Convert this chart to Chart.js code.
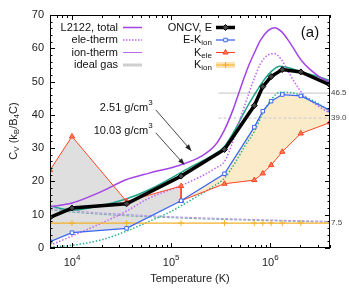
<!DOCTYPE html>
<html>
<head>
<meta charset="utf-8">
<script src="https://cdn.jsdelivr.net/npm/chart.js@4.4.1/dist/chart.umd.min.js"></script>
<style>
  html, body { margin: 0; padding: 0; background: #fff; }
  #wrap { width: 349px; height: 291px; position: relative; }
</style>
</head>
<body>
<div id="wrap"><canvas id="cv-chart"></canvas></div>
<script>
// DFT temperatures (K) shared by ONCV E, E-Kion and Kion
const tempDFT = [6000, 10000, 35500, 126000, 345000, 690000, 840000, 1020000, 1320000, 2030000, 4000000];
const oncvE = [9.2, 12.0, 13.3, 21.6, 29.6, 42.8, 48.5, 51.5, 53.6, 52.9, 49.0];
const eMinusKion = [1.9, 4.6, 5.9, 14.2, 22.3, 36.3, 41.1, 44.1, 46.1, 45.7, 41.4];
const kIon = [7.5, 7.5, 7.5, 7.5, 7.5, 7.5, 7.5, 7.5, 7.5, 7.5, 7.5];

// Kele, 2.51 g/cm3 branch (drops to the 10.03 branch at the last point)
const tempKeleLow = [6000, 10000, 35500, 126000, 126000];
const kEleLow = [23.4, 33.5, 14.0, 18.6, 14.2];
// Kele, 10.03 g/cm3 branch
const tempKeleHigh = [126000, 345000, 690000, 840000, 1020000, 1320000, 2030000, 4000000];
const kEleHigh = [14.2, 19.3, 20.4, 22.4, 24.9, 28.9, 34.4, 37.7];

// L2122 curves, 2.51 g/cm3
const tPurple = [6000, 10000, 20000, 35000, 60000, 120000, 200000, 280000, 345000, 420000, 500000, 600000, 700000, 800000, 950000, 1100000, 1300000, 1550000, 2100000, 3100000, 4000000];
const total251 = [12.4, 13.5, 17.0, 20.5, 22.5, 24.8, 27.5, 31.0, 35.5, 41.5, 48.0, 54.5, 59.0, 62.5, 65.3, 66.2, 65.0, 62.0, 56.0, 51.5, 49.8];
const eleTherm251 = [0.8, 3.6, 7.5, 11.0, 15.0, 18.5, 21.5, 24.0, 26.0, 32.0, 39.0, 46.0, 51.5, 55.5, 58.0, 58.4, 56.5, 52.5, 46.5, 42.5, 40.5];

// L2122 curves, 10.03 g/cm3
const tTeal = [6000, 10000, 20000, 35000, 60000, 100000, 150000, 250000, 345000, 450000, 550000, 690000, 840000, 1020000, 1250000, 1600000, 2000000, 3000000, 4000000];
const total1003 = [12.6, 11.4, 12.8, 14.7, 17.5, 21.0, 24.0, 27.5, 30.5, 36.0, 41.0, 46.0, 50.0, 53.0, 54.6, 54.0, 53.0, 51.5, 50.3];
const eleTherm1003 = [0.3, 0.8, 2.5, 5.0, 8.0, 11.0, 14.0, 18.0, 21.0, 26.0, 30.5, 35.0, 40.5, 44.5, 46.8, 46.7, 46.0, 43.5, 41.0];

// ion-therm curves
const tIon = [6000, 10000, 30000, 100000, 300000, 1000000, 4000000];
const ionTherm251 = [11.9, 11.2, 10.2, 9.4, 8.9, 8.4, 8.0];
const ionTherm1003 = [11.5, 10.8, 9.8, 9.1, 8.6, 8.2, 7.8];

// ideal gas limits
const tIdeal = [300000, 4000000];
const idealGas251 = [46.5, 46.5];
const idealGas1003 = [39.0, 39.0];

// tick labels
const xTickValues = [1e4, 1e5, 1e6];
const xTickExponents = ['4', '5', '6'];
const rightLabels = [7.5, 39.0, 46.5];
const legendLeft = ['L2122, total', 'ele-therm', 'ion-therm', 'ideal gas'];
const legendRight = [['ONCV, E', ''], ['E-K', 'ion'], ['K', 'ele'], ['K', 'ion']];

const C = {
    black: '#000',
    blue: '#3a66f2',
    red: '#ff4422',
    orange: '#f2b12a',
    purple: '#a443e6',
    purpleDot: '#c062f2',
    lilac: '#b59ae6',
    teal: '#1ea589',
    tealDot: '#2bb394',
    tealIon: '#7fa9ad',
    gray: '#cfcfcf',
    grayFill: '#dfdfdf',
    beige: '#fcebc9',
};

const pts = (xs, ys) => xs.map((x, i) => ({ x, y: ys[i] }));
const curve = (xs, ys, color, width, dash, order) => ({
    data: pts(xs, ys), borderColor: color, borderWidth: width, borderDash: dash || [],
    pointRadius: 0, cubicInterpolationMode: 'monotone', fill: false, order,
});

const FONT = "'Liberation Sans', 'DejaVu Sans', Arial, sans-serif";
Chart.defaults.font.family = FONT;
Chart.defaults.color = '#222';

function drawSample(ctx, x0, x1, y, st) {
    ctx.save();
    if (st.band) {
        ctx.strokeStyle = st.band; ctx.lineWidth = 6;
        ctx.beginPath(); ctx.moveTo(x0, y); ctx.lineTo(x1, y); ctx.stroke();
    }
    ctx.strokeStyle = st.color; ctx.lineWidth = st.width;
    ctx.setLineDash(st.dash || []);
    ctx.beginPath(); ctx.moveTo(x0, y); ctx.lineTo(x1, y); ctx.stroke();
    ctx.setLineDash([]);
    if (st.marker) {
        ctx.fillStyle = st.fill || st.color;
        ctx.strokeStyle = st.color;
        ctx.lineWidth = 1;
        Chart.helpers.drawPoint(ctx, { pointStyle: st.marker, radius: st.radius || 3, borderWidth: 1, rotation: 0 }, (x0 + x1) / 2, y);
    }
    ctx.restore();
}

// text with optional subscript, right-aligned at xr
function subText(ctx, main, sub, xr, y, size) {
    ctx.textBaseline = 'middle';
    ctx.textAlign = 'left';
    ctx.font = `${size}px ${FONT}`;
    const wm = ctx.measureText(main).width;
    ctx.font = `${size - 3}px ${FONT}`;
    const ws = sub ? ctx.measureText(sub).width : 0;
    const x0 = xr - wm - ws;
    ctx.font = `${size}px ${FONT}`;
    ctx.fillText(main, x0, y);
    if (sub) {
        ctx.font = `${size - 3}px ${FONT}`;
        ctx.fillText(sub, x0 + wm, y + 3);
    }
}

function arrow(ctx, x0, y0, x1, y1) {
    const ang = Math.atan2(y1 - y0, x1 - x0);
    ctx.beginPath(); ctx.moveTo(x0, y0); ctx.lineTo(x1 - 4 * Math.cos(ang), y1 - 4 * Math.sin(ang)); ctx.stroke();
    ctx.beginPath();
    ctx.moveTo(x1, y1);
    ctx.lineTo(x1 - 7 * Math.cos(ang) + 2.5 * Math.sin(ang), y1 - 7 * Math.sin(ang) - 2.5 * Math.cos(ang));
    ctx.lineTo(x1 - 7 * Math.cos(ang) - 2.5 * Math.sin(ang), y1 - 7 * Math.sin(ang) + 2.5 * Math.cos(ang));
    ctx.closePath(); ctx.fill();
}

const decorations = {
    id: 'decorations',
    afterDatasetsDraw(chart) {
        const ctx = chart.ctx;
        const xs = chart.scales.x, ys = chart.scales.y;
        const a = chart.chartArea;
        ctx.save();

        // frame + inward ticks
        ctx.strokeStyle = '#000';
        ctx.lineWidth = 1;
        ctx.strokeRect(a.left + 0.5, a.top + 0.5, a.right - a.left - 1, a.bottom - a.top - 1);
        ctx.beginPath();
        for (let e = 3; e <= 6; e++) {
            for (let k = 1; k < 10; k++) {
                const v = k * Math.pow(10, e);
                if (v < xs.min || v > xs.max) continue;
                const px = Math.round(xs.getPixelForValue(v)) + 0.5;
                const len = k === 1 ? 5 : 3;
                ctx.moveTo(px, a.bottom); ctx.lineTo(px, a.bottom - len);
                ctx.moveTo(px, a.top); ctx.lineTo(px, a.top + len);
            }
        }
        for (let v = 0; v <= 70; v += 2) {
            const py = Math.round(ys.getPixelForValue(v)) + 0.5;
            const len = v % 10 === 0 ? 5 : 2.5;
            ctx.moveTo(a.left, py); ctx.lineTo(a.left + len, py);
            ctx.moveTo(a.right, py); ctx.lineTo(a.right - len, py);
        }
        ctx.stroke();

        // x tick labels 10^n
        ctx.fillStyle = '#222';
        ctx.textBaseline = 'middle';
        ctx.textAlign = 'left';
        xTickValues.forEach((v, i) => {
            const px = xs.getPixelForValue(v);
            ctx.font = `11px ${FONT}`;
            const w1 = ctx.measureText('10').width;
            ctx.font = `8px ${FONT}`;
            const w2 = ctx.measureText(xTickExponents[i]).width;
            const x0 = px - (w1 + w2) / 2;
            ctx.font = `11px ${FONT}`;
            ctx.fillText('10', x0, a.bottom + 15);
            ctx.font = `8px ${FONT}`;
            ctx.fillText(xTickExponents[i], x0 + w1, a.bottom + 10);
        });

        // y axis title C_V (k_B/B_4C)
        ctx.save();
        ctx.translate(14, 131);
        ctx.rotate(-Math.PI / 2);
        const parts = [['C', 11, 0], ['V', 8, 3], [' (k', 11, 0], ['B', 8, 3], ['/B', 11, 0], ['4', 8, 3], ['C)', 11, 0]];
        let tw = 0;
        parts.forEach(p => { ctx.font = `${p[1]}px ${FONT}`; tw += ctx.measureText(p[0]).width; });
        let cx = -tw / 2;
        parts.forEach(p => {
            ctx.font = `${p[1]}px ${FONT}`;
            ctx.fillText(p[0], cx, p[2]);
            cx += ctx.measureText(p[0]).width;
        });
        ctx.restore();

        // legend, left column
        const rowY = i => a.top + 12.5 * (i + 1);
        const leftStyles = [
            { color: C.purple, width: 1.5 },
            { color: C.purpleDot, width: 1.5, dash: [1.5, 1.5] },
            { color: C.purple, width: 0.8 },
            { color: C.gray, width: 3 },
        ];
        legendLeft.forEach((t, i) => {
            ctx.fillStyle = '#111';
            subText(ctx, t, '', 118, rowY(i), 11);
            drawSample(ctx, 123, 142, rowY(i), leftStyles[i]);
        });
        const rightStyles = [
            { color: C.black, width: 3.5, marker: 'rectRot', radius: 3, fill: '#444' },
            { color: C.blue, width: 1.3, marker: 'rect', radius: 2.5, fill: '#fff' },
            { color: C.red, width: 1, marker: 'triangle', radius: 3, fill: '#ff7a5c' },
            { color: C.orange, width: 1, band: '#fbe3b5', marker: 'cross', radius: 3 },
        ];
        legendRight.forEach((t, i) => {
            ctx.fillStyle = '#111';
            subText(ctx, t[0], t[1], 212, rowY(i), 11);
            drawSample(ctx, 216, 235, rowY(i), rightStyles[i]);
        });

        // panel label
        ctx.fillStyle = '#111';
        ctx.font = `15px ${FONT}`;
        ctx.textAlign = 'center';
        ctx.textBaseline = 'middle';
        ctx.fillText('(a)', 310, 33);

        // density annotations with arrows (data coordinates)
        const notes = [
            { text: '2.51 g/cm', tx: 65000, ty: 42.0, from: [70000, 41.5], to: [161000, 29.1] },
            { text: '10.03 g/cm', tx: 65000, ty: 35.1, from: [70000, 34.6], to: [137000, 24.9] },
        ];
        notes.forEach(n => {
            const xr = xs.getPixelForValue(n.tx), y = ys.getPixelForValue(n.ty);
            ctx.textAlign = 'left';
            ctx.font = `8px ${FONT}`;
            const ws = ctx.measureText('3').width;
            ctx.font = `11px ${FONT}`;
            const wm = ctx.measureText(n.text).width;
            ctx.fillStyle = '#111';
            ctx.fillText(n.text, xr - ws - wm, y);
            ctx.font = `8px ${FONT}`;
            ctx.fillText('3', xr - ws, y - 5);
            ctx.strokeStyle = '#333';
            ctx.fillStyle = '#222';
            ctx.lineWidth = 0.9;
            arrow(ctx, xs.getPixelForValue(n.from[0]), ys.getPixelForValue(n.from[1]),
                xs.getPixelForValue(n.to[0]), ys.getPixelForValue(n.to[1]));
        });

        ctx.restore();
    },
};

new Chart(document.getElementById('cv-chart'), {
    type: 'line',
    data: {
        datasets: [
            { data: pts(tempDFT, oncvE), borderColor: C.black, borderWidth: 3.5, pointStyle: 'rectRot', pointRadius: 3, pointBackgroundColor: '#444', pointBorderColor: C.black, pointBorderWidth: 1, fill: false, order: 0 },
            { data: pts(tempDFT, eMinusKion), borderColor: C.blue, borderWidth: 1.3, backgroundColor: C.beige, fill: 3, pointStyle: 'rect', pointRadius: 2.5, pointBackgroundColor: '#fff', pointBorderColor: C.blue, pointBorderWidth: 1, order: 1 },
            { data: pts(tempKeleLow, kEleLow), borderColor: C.red, borderWidth: 1, backgroundColor: C.grayFill, fill: 1, pointStyle: 'triangle', pointRadius: 3, pointBackgroundColor: '#ff7a5c', pointBorderColor: C.red, pointBorderWidth: 1, order: 2 },
            { data: pts(tempKeleHigh, kEleHigh), borderColor: C.red, borderWidth: 1, fill: false, pointStyle: 'triangle', pointRadius: 3, pointBackgroundColor: '#ff7a5c', pointBorderColor: C.red, pointBorderWidth: 1, order: 2 },
            { data: pts(tempDFT, kIon), borderColor: C.orange, borderWidth: 1.2, fill: false, pointStyle: 'cross', pointRadius: 3, pointBorderColor: C.orange, pointBorderWidth: 1, order: 3 },
            curve(tPurple, total251, C.purple, 1.5, null, 4),
            curve(tPurple, eleTherm251, C.purpleDot, 1.5, [1.5, 1.8], 4),
            curve(tIon, ionTherm251, C.lilac, 1.1, [3, 1.5], 5),
            curve(tTeal, total1003, C.teal, 1.5, null, 4),
            curve(tTeal, eleTherm1003, C.tealDot, 1.5, [1.5, 1.8], 4),
            curve(tIon, ionTherm1003, C.tealIon, 1.1, [3, 1.5], 5),
            { data: pts(tIdeal, idealGas251), borderColor: C.gray, borderWidth: 1.3, pointRadius: 0, fill: false, order: 6 },
            { data: pts(tIdeal, idealGas1003), borderColor: C.gray, borderWidth: 1.2, borderDash: [3, 2], pointRadius: 0, fill: false, order: 6 },
        ],
    },
    options: {
        responsive: true,
        maintainAspectRatio: false,
        animation: false,
        layout: { padding: { top: 15, right: 0, bottom: 0, left: 0 } },
        plugins: {
            legend: { display: false },
            tooltip: { enabled: false },
            filler: { drawTime: 'beforeDatasetsDraw' },
        },
        scales: {
            x: {
                type: 'logarithmic', min: 6000, max: 4000000,
                grid: { display: false, drawTicks: false },
                border: { display: false },
                ticks: { display: false },
                title: { display: true, text: 'Temperature (K)', font: { size: 11 }, padding: { top: 0, bottom: 5 } },
                afterFit: s => { s.height = 43; },
            },
            y: {
                min: 0, max: 70,
                grid: { display: false, drawTicks: false },
                border: { display: false },
                ticks: { stepSize: 10, font: { size: 11 }, padding: 6 },
                afterFit: s => { s.width = 50; },
            },
            y2: {
                position: 'right', min: 0, max: 70,
                grid: { display: false, drawTicks: false },
                border: { display: false },
                afterBuildTicks: s => { s.ticks = rightLabels.map(v => ({ value: v })); },
                ticks: { font: { size: 8 }, color: '#444', padding: 1, callback: v => Number(v).toFixed(1) },
                afterFit: s => { s.width = 19; },
            },
        },
    },
    plugins: [decorations],
});
</script>
</body>
</html>
